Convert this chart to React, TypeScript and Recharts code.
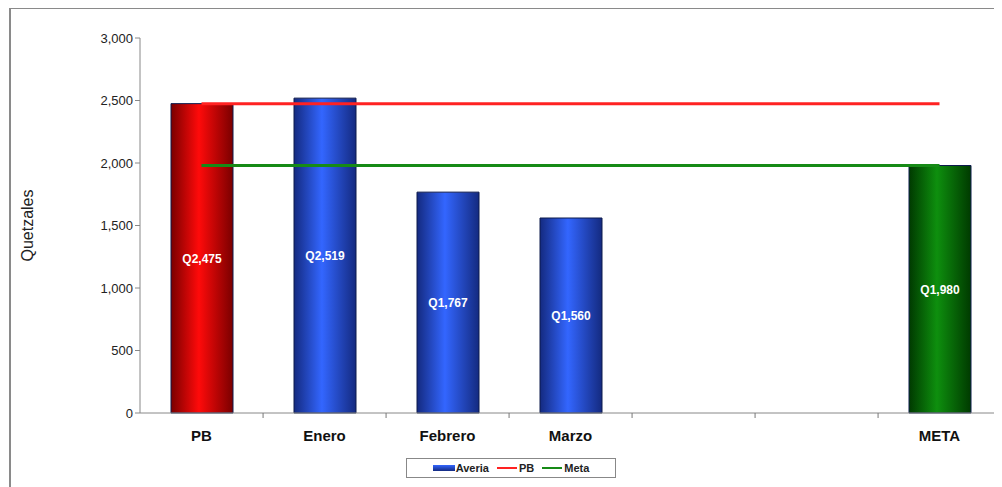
import React from "react";
import {
  ComposedChart,
  Bar,
  Line,
  Cell,
  XAxis,
  YAxis,
  LabelList,
} from "recharts";

const categories = ["PB", "Enero", "Febrero", "Marzo", " ", "  ", "META"];
const averia = [2475, 2519, 1767, 1560, null, null, 1980];
const pbLine = [2475, 2475, 2475, 2475, 2475, 2475, 2475];
const metaLine = [1980, 1980, 1980, 1980, 1980, 1980, 1980];
const barGradients = ["gRed", "gBlue", "gBlue", "gBlue", "gBlue", "gBlue", "gGreen"];
const yTicks = [0, 500, 1000, 1500, 2000, 2500, 3000];

const FONT = "'Liberation Sans', Arial, sans-serif";

const data = categories.map((c, i) => ({
  name: c,
  averia: averia[i],
  pb: pbLine[i],
  meta: metaLine[i],
}));

function fmt(v: number) {
  return v.toLocaleString("en-US");
}

// category label + small tick at the right edge of each band (excel style)
function CatTick(props: any) {
  const { x, payload } = props;
  const half = (1002 - 140) / 7 / 2;
  return (
    <g>
      <line x1={x + half} x2={x + half} y1={413} y2={418} stroke="#777" />
      <text
        x={x}
        y={441}
        textAnchor="middle"
        fontFamily={FONT}
        fontSize={15}
        fontWeight="bold"
        fill="#111"
      >
        {payload.value.trim()}
      </text>
    </g>
  );
}

function Gradient({ id, edge, mid }: { id: string; edge: string; mid: string }) {
  return (
    <linearGradient id={id} x1="0" y1="0" x2="1" y2="0">
      <stop offset="0%" stopColor={edge} />
      <stop offset="45%" stopColor={mid} />
      <stop offset="100%" stopColor={edge} />
    </linearGradient>
  );
}

export default function App() {
  return (
    <div
      style={{
        position: "relative",
        width: 1002,
        height: 487,
        margin: "-8px 0 0 -8px",
        background: "#fff",
        overflow: "hidden",
        fontFamily: FONT,
      }}
    >
      {/* chart frame */}
      <div
        style={{
          position: "absolute",
          left: 9,
          top: 7,
          width: 1010,
          height: 500,
          borderLeft: "2px solid #8a8a8a",
          borderTop: "2px solid #8a8a8a",
          boxSizing: "border-box",
        }}
      />
      <div style={{ position: "absolute", left: 0, top: 0 }}>
        <ComposedChart
          width={1002}
          height={487}
          data={data}
          margin={{ top: 38, right: 1, bottom: 0, left: 0 }}
          barSize={62}
        >
          <defs>
            <Gradient id="gRed" edge="#7a0000" mid="#ff0a0a" />
            <Gradient id="gBlue" edge="#142a80" mid="#3366ff" />
            <Gradient id="gGreen" edge="#003a00" mid="#0e8f0e" />
          </defs>
          <XAxis
            dataKey="name"
            height={74}
            axisLine={{ stroke: "#888" }}
            tickLine={false}
            tick={<CatTick />}
            interval={0}
          />
          <YAxis
            width={140}
            domain={[0, 3000]}
            ticks={yTicks}
            tickFormatter={fmt}
            axisLine={{ stroke: "#888" }}
            tickLine={{ stroke: "#888" }}
            tickSize={5}
            tick={{ fill: "#222", fontSize: 13, fontFamily: FONT }}
            label={{
              value: "Quetzales",
              angle: -90,
              position: "insideLeft",
              offset: 27,
              style: { fill: "#222", fontSize: 16, fontFamily: FONT, textAnchor: "middle" },
            }}
          />
          <Bar dataKey="averia" name="Averia" isAnimationActive={false} stroke="#0d1a4d" strokeWidth={1}>
            {data.map((d, i) => (
              <Cell key={i} fill={`url(#${barGradients[i]})`} />
            ))}
            <LabelList
              dataKey="averia"
              position="center"
              formatter={(v: any) => (v == null ? "" : `Q${fmt(v)}`)}
              fill="#fff"
              fontSize={12}
              fontWeight="bold"
              fontFamily={FONT}
            />
          </Bar>
          <Line
            dataKey="pb"
            name="PB"
            stroke="#f22"
            strokeWidth={3}
            dot={false}
            activeDot={false}
            isAnimationActive={false}
          />
          <Line
            dataKey="meta"
            name="Meta"
            stroke="#168a16"
            strokeWidth={3}
            dot={false}
            activeDot={false}
            isAnimationActive={false}
          />
        </ComposedChart>
      </div>
      {/* legend */}
      <div
        style={{
          position: "absolute",
          left: 406,
          top: 458,
          width: 210,
          height: 20,
          border: "1px solid #888",
          boxSizing: "border-box",
          display: "flex",
          alignItems: "center",
          justifyContent: "center",
          gap: 8,
          fontSize: 11,
          fontWeight: "bold",
          color: "#222",
        }}
      >
        <span style={{ display: "flex", alignItems: "center" }}>
          <span
            style={{
              display: "inline-block",
              width: 22,
              height: 6,
              background: "linear-gradient(#3366ff, #142a80)",
              marginRight: 1,
            }}
          />
          Averia
        </span>
        <span style={{ display: "flex", alignItems: "center" }}>
          <span style={{ display: "inline-block", width: 20, height: 2, background: "#f22", marginRight: 2 }} />
          PB
        </span>
        <span style={{ display: "flex", alignItems: "center" }}>
          <span style={{ display: "inline-block", width: 20, height: 2, background: "#168a16", marginRight: 2 }} />
          Meta
        </span>
      </div>
    </div>
  );
}
